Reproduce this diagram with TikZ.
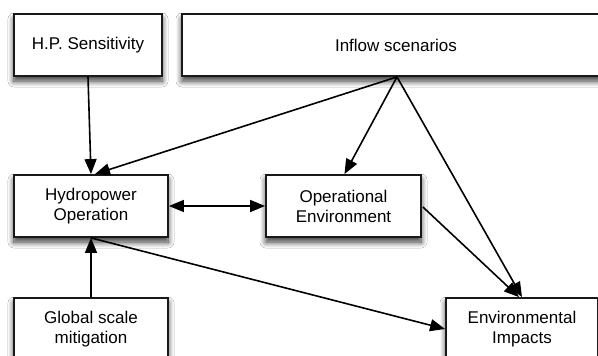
\documentclass[tikz,border=0pt]{standalone}
\usepackage{fontspec}
\setmainfont{Liberation Sans}
\usetikzlibrary{arrows.meta,shadows.blur,calc}
\begin{document}
\begin{tikzpicture}[x=1pt,y=-1pt,
  box/.style={draw=black!90,line width=1.8pt,fill=white,rectangle,align=center,
    font=\fontsize{17}{20}\selectfont,inner sep=0pt,
    blur shadow={shadow xshift=0pt,shadow yshift=-5pt,shadow blur radius=6pt,shadow opacity=80,shadow blur steps=10}},
  conn/.style={line width=1.6pt,-{Triangle[length=15pt,width=12pt]}},
  dconn/.style={line width=1.6pt,{Triangle[length=15pt,width=12pt]}-{Triangle[length=15pt,width=12pt]}}]
\clip (0,0) rectangle (598,356);
\fill[white] (0,0) rectangle (598,356);
\node[box,minimum width=148pt,minimum height=62pt] (hps) at (88,45) {H.P. Sensitivity};
\node[box,minimum width=428pt,minimum height=62pt] (inflow) at (396,45) {Inflow scenarios};
\node[box,minimum width=154pt,minimum height=62pt] (hydro) at (91,206) {Hydropower\\Operation};
\node[box,minimum width=155pt,minimum height=62pt] (openv) at (343.5,206) {Operational\\Environment};
\node[box,minimum width=154pt,minimum height=62pt] (glob) at (91,329) {Global scale\\mitigation};
\node[box,minimum width=152pt,minimum height=62pt] (env) at (522,329) {Environmental\\Impacts};
\draw[conn] (hps.south) -- (hydro.north);
\draw[conn] ($(inflow.south)+(1,0)$) -- ($(hydro.north)+(4,0)$);
\draw[conn] ($(inflow.south)+(1,0)$) -- ($(openv.north)+(1,0)$);
\draw[conn] ($(inflow.south)+(1,0)$) -- (env.north);
\draw[conn] ($(openv.east)+(1,1)$) -- ($(env.north)+(-3,0)$);
\draw[dconn] (hydro.east) -- (openv.west);
\draw[conn] (hydro.south) -- (env.west);
\draw[conn] (glob.north) -- (hydro.south);
\end{tikzpicture}
\end{document}
